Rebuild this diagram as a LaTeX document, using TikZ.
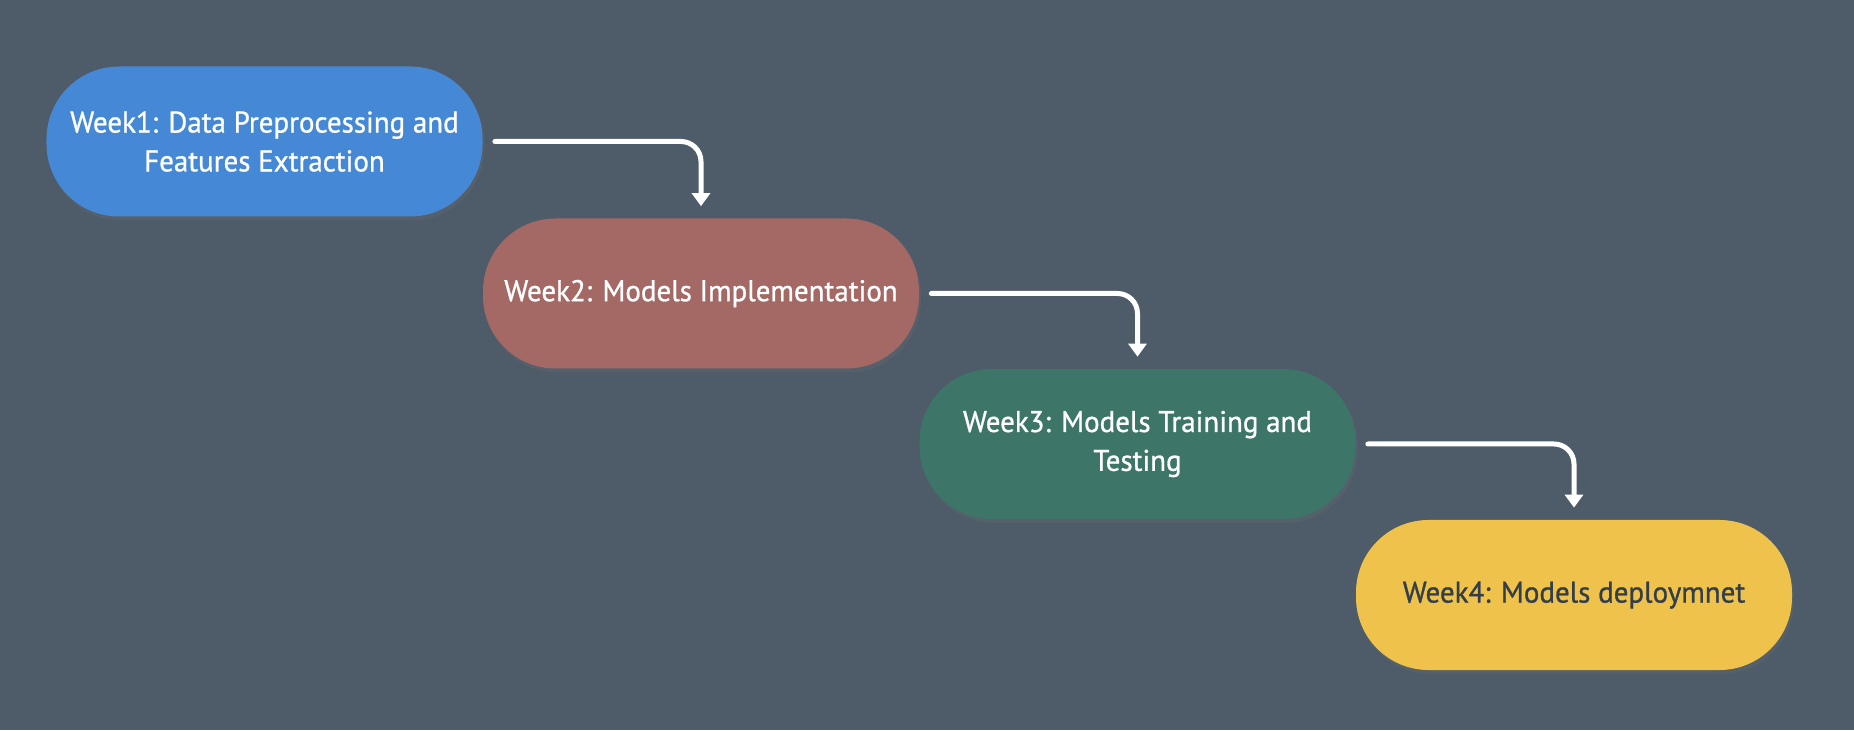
\documentclass[tikz,border=0pt]{standalone}
\usepackage{fontspec}
\setmainfont{PT Sans}
\newfontfamily\weekfont[FakeBold=0.9,FakeStretch=0.97]{PT Sans}
\usepackage{tikz}
\usetikzlibrary{arrows.meta}
\usetikzlibrary{shadows}

\definecolor{bgslate}{RGB}{78,91,104}
\definecolor{weekblue}{RGB}{69,137,214}
\definecolor{weekred}{RGB}{164,104,101}
\definecolor{weekgreen}{RGB}{61,118,104}
\definecolor{weekyellow}{RGB}{239,194,75}
\definecolor{darktext}{RGB}{52,62,72}

\begin{document}
\begin{tikzpicture}[
  week/.style={rounded corners=1.45cm, minimum width=8.72cm, minimum height=3cm,
    align=center, text=white, font=\weekfont\fontsize{17}{22.1}\selectfont,
    drop shadow={opacity=0.15, shadow xshift=0.04cm, shadow yshift=-0.08cm}},
  flow/.style={draw=white, line width=0.1cm, line cap=round, rounded corners=0.4cm,
    -{Triangle[width=0.36cm,length=0.26cm]}}]
\fill[bgslate] (0,0) rectangle (37.08,14.6);
\useasboundingbox (0,0) rectangle (37.08,14.6);
\node[week,fill=weekblue] (w1) at (5.29,11.77) {Week1: Data Preprocessing and\\Features Extraction};
\node[week,fill=weekred] (w2) at (14.02,8.73) {Week2: Models Implementation};
\node[week,fill=weekgreen] (w3) at (22.75,5.72) {Week3: Models Training and\\Testing};
\node[week,fill=weekyellow,text=darktext] (w4) at (31.48,2.70) {Week4: Models deploymnet};
\draw[flow] ([xshift=0.24cm]w1.east) -| ([yshift=0.24cm]w2.north);
\draw[flow] ([xshift=0.24cm]w2.east) -| ([yshift=0.24cm]w3.north);
\draw[flow] ([xshift=0.24cm]w3.east) -| ([yshift=0.24cm]w4.north);
\end{tikzpicture}
\end{document}
